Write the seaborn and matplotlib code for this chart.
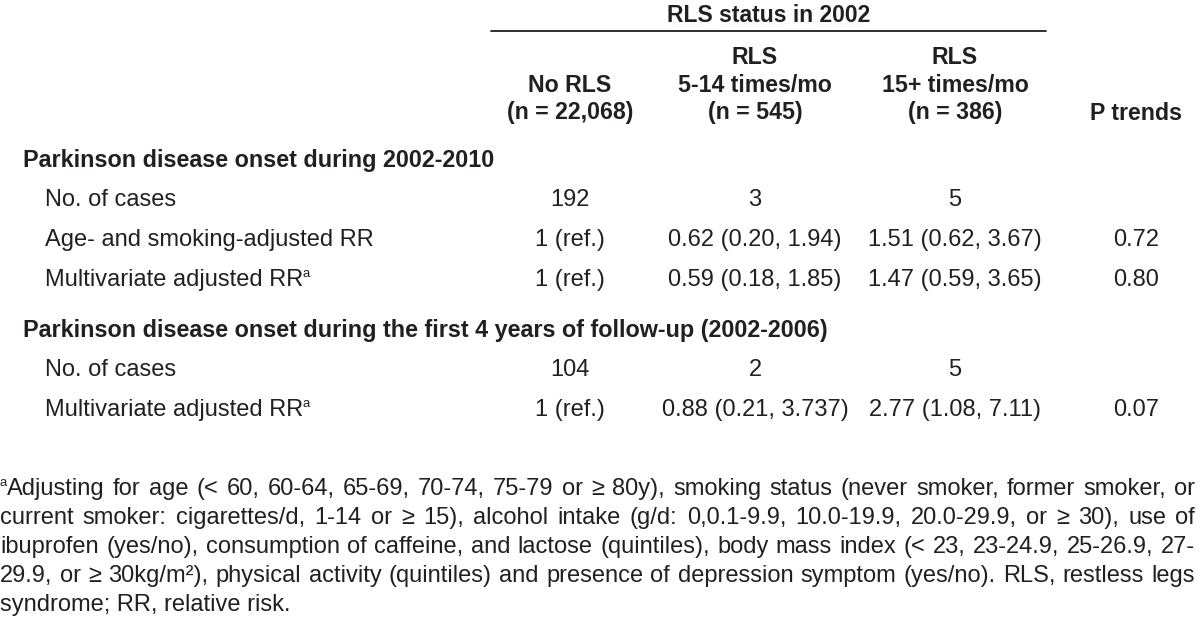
import matplotlib
matplotlib.use("Agg")
import matplotlib.pyplot as plt
import seaborn as sns

# table content
col_group = "RLS status in 2002"
col_heads = [["No RLS", "(n = 22,068)"],
             ["RLS", "5-14 times/mo", "(n = 545)"],
             ["RLS", "15+ times/mo", "(n = 386)"],
             ["P trends"]]
sections = ["Parkinson disease onset during 2002-2010",
            "Parkinson disease onset during the first 4 years of follow-up (2002-2006)"]
rows_1 = ["No. of cases", "Age- and smoking-adjusted RR", "Multivariate adjusted RR"]
no_rls_1 = ["192", "1 (ref.)", "1 (ref.)"]
rls_5_14_1 = ["3", "0.62 (0.20, 1.94)", "0.59 (0.18, 1.85)"]
rls_15_1 = ["5", "1.51 (0.62, 3.67)", "1.47 (0.59, 3.65)"]
p_trend_1 = ["", "0.72", "0.80"]
rows_2 = ["No. of cases", "Multivariate adjusted RR"]
no_rls_2 = ["104", "1 (ref.)"]
rls_5_14_2 = ["2", "0.88 (0.21, 3.737)"]
rls_15_2 = ["5", "2.77 (1.08, 7.11)"]
p_trend_2 = ["", "0.07"]
footnote = [
    "Adjusting for age (< 60, 60-64, 65-69, 70-74, 75-79 or \u2265 80y), smoking status (never smoker, former smoker, or",
    "current smoker: cigarettes/d, 1-14 or \u2265 15), alcohol intake (g/d: 0,0.1-9.9, 10.0-19.9, 20.0-29.9, or \u2265 30), use of",
    "ibuprofen (yes/no), consumption of caffeine, and lactose (quintiles), body mass index (< 23, 23-24.9, 25-26.9, 27-",
    "29.9, or \u2265 30kg/m\u00b2), physical activity (quintiles) and presence of depression symptom (yes/no). RLS, restless legs",
    "syndrome; RR, relative risk.",
]

sns.set_theme(style="white")
plt.rcParams["font.family"] = ["Liberation Sans", "DejaVu Sans"]
ink = "#231f20"

fig = plt.figure(figsize=(12, 6.41), dpi=100)
ax = fig.add_axes([0, 0, 1, 1])
ax.set_xlim(0, 1200)
ax.set_ylim(641, 0)
ax.axis("off")
renderer = fig.canvas.get_renderer()

fs = 17
col_x = [570, 755, 955, 1136]


def put(x, y, s, ha="left", bold=False, size=fs, sup=None):
    t = ax.text(x, y, s, ha=ha, va="center", fontsize=size, color=ink,
                fontweight="bold" if bold else "normal")
    if sup:
        # superscript sits right against the preceding word
        bb = t.get_window_extent(renderer)
        ax.text(bb.x1 - 1, y - 6, sup, ha="left", va="center", fontsize=size * 0.55, color=ink)
    return t


# header
put(769, 16, col_group, ha="center", bold=True, size=16.5)
ax.plot([491, 1046], [31, 31], color=ink, lw=1.3)
head_y = [58, 86, 113]
for cx, lines in zip(col_x, col_heads):
    for i, s in enumerate(lines):
        put(cx, head_y[3 - len(lines) + i], s, ha="center", bold=True, size=16.7)


def block(y0, title, labels, cols):
    put(23, y0, title, bold=True, size=16.8)
    for i, lab in enumerate(labels):
        y = y0 + 39 + 40 * i
        put(45, y, lab, sup="a" if lab.startswith("Multivariate") else None)
        for cx, vals in zip(col_x, cols):
            put(cx, y, vals[i], ha="center")


block(161, sections[0], rows_1, [no_rls_1, rls_5_14_1, rls_15_1, p_trend_1])
block(331, sections[1], rows_2, [no_rls_2, rls_5_14_2, rls_15_2, p_trend_2])

# justified footnote
left, right = 7, 1195
for k, line in enumerate(footnote):
    y = 489 + 29 * k
    if k == 0:
        ax.text(0, y - 6, "a", fontsize=fs * 0.55, color=ink, va="center")
    if k == len(footnote) - 1:
        ax.text(0, y, line, fontsize=fs, color=ink, va="center")
        continue
    words = line.split(" ")
    start = left if k == 0 else 0
    arts = [ax.text(0, y, w, fontsize=fs, color=ink, va="center") for w in words]
    widths = [a.get_window_extent(renderer).width for a in arts]
    gap = (right - start - sum(widths)) / (len(words) - 1)
    x = start
    for a, w in zip(arts, widths):
        a.set_x(x)
        x += w + gap

fig.savefig("out.png", dpi=100, facecolor="white")
